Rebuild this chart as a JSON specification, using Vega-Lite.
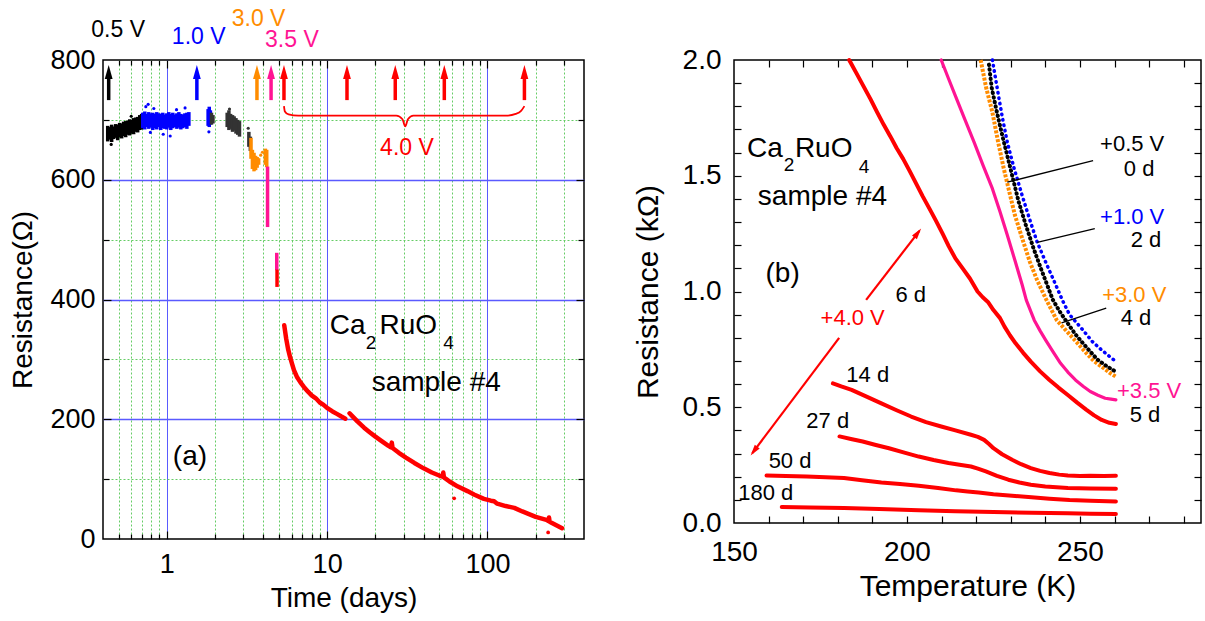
{
"$schema": "https://vega.github.io/schema/vega-lite/v6.json",
"padding": {"left": 9, "top": 6, "right": 0, "bottom": 0},
"background": "white",
"bounds": "flush",
"spacing": 150,
"config": {
  "font": "Liberation Sans",
  "view": {"stroke": "#000000", "strokeWidth": 1.5},
  "axis": {"domain": false, "labelFlush": false, "labelOverlap": false, "tickColor": "#000000", "tickWidth": 1.2, "labelColor": "#000000", "titleColor": "#000000", "titleFontWeight": "normal", "labelFont": "Liberation Sans", "titleFont": "Liberation Sans"},
  "text": {"font": "Liberation Sans"}
},
"hconcat": [
{
  "width": 481, "height": 479,
  "resolve": {"axis": {"x": "independent", "y": "independent"}},
  "layer": [
    {
      "data": {"values": [
        {"x":0.428,"y":664,"y2":690,"c":"k"},{"x":0.44,"y":667,"y2":688,"c":"k"},{"x":0.453,"y":663,"y2":692,"c":"k"},{"x":0.466,"y":668,"y2":689,"c":"k"},
        {"x":0.48,"y":670,"y2":693,"c":"k"},{"x":0.494,"y":666,"y2":692,"c":"k"},{"x":0.508,"y":671,"y2":695,"c":"k"},{"x":0.523,"y":669,"y2":694,"c":"k"},
        {"x":0.538,"y":673,"y2":697,"c":"k"},{"x":0.554,"y":671,"y2":698,"c":"k"},{"x":0.57,"y":675,"y2":699,"c":"k"},{"x":0.587,"y":674,"y2":701,"c":"k"},
        {"x":0.604,"y":677,"y2":700,"c":"k"},{"x":0.621,"y":676,"y2":703,"c":"k"},{"x":0.639,"y":680,"y2":704,"c":"k"},{"x":0.658,"y":679,"y2":705,"c":"k"},
        {"x":0.678,"y":683,"y2":708,"c":"k"},{"x":0.697,"y":684,"y2":710,"c":"k"},
        {"x":0.708,"y":686,"y2":712,"c":"b"},{"x":0.729,"y":684,"y2":714,"c":"b"},{"x":0.75,"y":688,"y2":710,"c":"b"},{"x":0.772,"y":685,"y2":713,"c":"b"},
        {"x":0.794,"y":687,"y2":711,"c":"b"},{"x":0.818,"y":683,"y2":712,"c":"b"},{"x":0.841,"y":686,"y2":710,"c":"b"},{"x":0.866,"y":684,"y2":713,"c":"b"},
        {"x":0.891,"y":688,"y2":711,"c":"b"},{"x":0.917,"y":683,"y2":710,"c":"b"},{"x":0.944,"y":686,"y2":712,"c":"b"},{"x":0.972,"y":685,"y2":709,"c":"b"},
        {"x":1.0,"y":684,"y2":711,"c":"b"},{"x":1.029,"y":687,"y2":713,"c":"b"},{"x":1.059,"y":683,"y2":710,"c":"b"},{"x":1.09,"y":686,"y2":712,"c":"b"},
        {"x":1.122,"y":688,"y2":709,"c":"b"},{"x":1.155,"y":685,"y2":711,"c":"b"},{"x":1.189,"y":687,"y2":713,"c":"b"},{"x":1.223,"y":684,"y2":710,"c":"b"},
        {"x":1.259,"y":686,"y2":709,"c":"b"},{"x":1.296,"y":688,"y2":711,"c":"b"},{"x":1.334,"y":685,"y2":712,"c":"b"},{"x":1.373,"y":690,"y2":713,"c":"b"},
        {"x":1.81,"y":690,"y2":718,"c":"b"},{"x":1.84,"y":688,"y2":722,"c":"b"},{"x":1.87,"y":692,"y2":716,"c":"b"},
        {"x":1.9,"y":692,"y2":712,"c":"g"},{"x":1.94,"y":694,"y2":708,"c":"g"},
        {"x":2.38,"y":688,"y2":712,"c":"g"},{"x":2.44,"y":683,"y2":716,"c":"g"},{"x":2.5,"y":685,"y2":710,"c":"g"},{"x":2.57,"y":680,"y2":708,"c":"g"},
        {"x":2.63,"y":682,"y2":706,"c":"g"},{"x":2.7,"y":677,"y2":703,"c":"g"},{"x":2.77,"y":675,"y2":700,"c":"g"},{"x":2.84,"y":672,"y2":698,"c":"g"},
        {"x":3.25,"y":655,"y2":680,"c":"g"},{"x":3.32,"y":648,"y2":672,"c":"g"},
        {"x":3.35,"y":635,"y2":670,"c":"o"},{"x":3.42,"y":618,"y2":650,"c":"o"},{"x":3.5,"y":614,"y2":645,"c":"o"},{"x":3.58,"y":616,"y2":640,"c":"o"},
        {"x":3.66,"y":620,"y2":638,"c":"o"},{"x":3.74,"y":625,"y2":636,"c":"o"},
        {"x":4.12,"y":625,"y2":652,"c":"o"},{"x":4.2,"y":621,"y2":650,"c":"o"},
        {"x":4.25,"y":521,"y2":622,"c":"m"},
        {"x":4.85,"y":449,"y2":478,"c":"m"},{"x":4.87,"y":421,"y2":450,"c":"r"}
      ]},
      "mark": {"type": "rule", "strokeWidth": 3.5},
      "encoding": {
        "x": {"field": "x", "type": "quantitative", "scale": {"type": "log", "domain": [0.4, 400], "nice": false},
              "axis": {"orient": "bottom", "values": [0.5,0.6,0.7,0.8,0.9,2,3,4,5,6,7,8,9,20,30,40,50,60,70,80,90,200,300], "labels": false, "ticks": false, "grid": true, "gridColor": "#66cc66", "gridDash": [2,2], "gridWidth": 1, "title": null}},
        "y": {"field": "y", "type": "quantitative", "scale": {"domain": [0, 800], "nice": false},
              "axis": {"orient": "left", "values": [100,300,500,700], "labels": false, "ticks": false, "grid": true, "gridColor": "#66cc66", "gridDash": [2,2], "gridWidth": 1, "title": null}},
        "y2": {"field": "y2"},
        "color": {"field": "c", "type": "nominal", "scale": {"domain": ["k","b","g","o","m","r"], "range": ["#000000","#0000ff","#333333","#ff8c00","#ff1493","#ff0000"]}, "legend": null}
      }
    },
    {
      "data": {"values": [
        {"x":0.74,"y":722,"c":"b"},{"x":0.765,"y":726,"c":"b"},{"x":0.83,"y":719,"c":"b"},{"x":0.95,"y":676,"c":"b"},{"x":1.05,"y":673,"c":"b"},
        {"x":1.3,"y":720,"c":"b"},{"x":1.83,"y":680,"c":"b"},{"x":0.79,"y":679,"c":"b"},{"x":1.15,"y":717,"c":"b"},{"x":0.45,"y":659,"c":"k"},
        {"x":0.6,"y":706,"c":"k"},{"x":3.85,"y":641,"c":"o"},{"x":3.95,"y":646,"c":"o"},{"x":2.46,"y":718,"c":"g"},{"x":3.22,"y":686,"c":"g"}
      ]},
      "mark": {"type": "circle", "size": 10, "opacity": 1},
      "encoding": {
        "x": {"field": "x", "type": "quantitative", "scale": {"type": "log", "domain": [0.4, 400], "nice": false},
              "axis": {"orient": "top", "values": [0.5,0.6,0.7,0.8,0.9,2,3,4,5,6,7,8,9,20,30,40,50,60,70,80,90,200,300], "labels": false, "ticks": true, "tickSize": 5, "offset": -5, "grid": false, "title": null}},
        "y": {"field": "y", "type": "quantitative", "scale": {"domain": [0, 800], "nice": false},
              "axis": {"orient": "right", "values": [100,300,500,700], "labels": false, "ticks": true, "tickSize": 6, "offset": -6, "grid": false, "title": null}},
        "color": {"field": "c", "type": "nominal", "scale": {"domain": ["k","b","g","o","m","r"], "range": ["#000000","#0000ff","#333333","#ff8c00","#ff1493","#ff0000"]}, "legend": null}
      }
    },
    {
      "data": {"values": [
        {"x":5.4,"y":357,"g":"a"},{"x":5.55,"y":335,"g":"a"},{"x":5.7,"y":318,"g":"a"},{"x":5.87,"y":304,"g":"a"},{"x":6.05,"y":292,"g":"a"},
        {"x":6.21,"y":282,"g":"a"},{"x":6.5,"y":270,"g":"a"},{"x":6.8,"y":262,"g":"a"},{"x":7.16,"y":254,"g":"a"},{"x":7.6,"y":246,"g":"a"},
        {"x":8.0,"y":240,"g":"a"},{"x":8.5,"y":235,"g":"a"},{"x":9.0,"y":228,"g":"a"},{"x":9.5,"y":224,"g":"a"},{"x":10.1,"y":218,"g":"a"},
        {"x":10.8,"y":213,"g":"a"},{"x":11.5,"y":209,"g":"a"},{"x":12.2,"y":205,"g":"a"},{"x":13.0,"y":201,"g":"a"},
        {"x":13.8,"y":210,"g":"b"},{"x":14.5,"y":204,"g":"b"},{"x":15.5,"y":196,"g":"b"},{"x":17,"y":186,"g":"b"},{"x":18.5,"y":178,"g":"b"},
        {"x":20,"y":171,"g":"b"},{"x":22,"y":163,"g":"b"},{"x":24,"y":156,"g":"b"},{"x":25,"y":153,"g":"b"},{"x":25.3,"y":161,"g":"b"},
        {"x":25.6,"y":152,"g":"b"},{"x":28,"y":144,"g":"b"},{"x":31,"y":136,"g":"b"},{"x":35,"y":127,"g":"b"},{"x":40,"y":118,"g":"b"},
        {"x":45,"y":111,"g":"b"},{"x":50,"y":106,"g":"b"},{"x":52.5,"y":104,"g":"b"},{"x":53,"y":111,"g":"b"},{"x":53.5,"y":103,"g":"b"},
        {"x":58,"y":96,"g":"b"},{"x":65,"y":88,"g":"b"},{"x":75,"y":80,"g":"b"},{"x":83,"y":74,"g":"b"},{"x":95,"y":67,"g":"b"},
        {"x":105,"y":64,"g":"b"},{"x":110,"y":63,"g":"b"},{"x":115,"y":59,"g":"b"},{"x":130,"y":55,"g":"b"},{"x":147,"y":52,"g":"b"},
        {"x":165,"y":46,"g":"b"},{"x":180,"y":42,"g":"b"},{"x":200,"y":37,"g":"b"},{"x":233,"y":32,"g":"b"},{"x":240,"y":30,"g":"b"},
        {"x":242,"y":36,"g":"b"},{"x":244,"y":29,"g":"b"},{"x":265,"y":24,"g":"b"},{"x":292,"y":18,"g":"b"}
      ]},
      "mark": {"type": "line", "color": "#ff0000", "strokeWidth": 4.5, "strokeCap": "round", "strokeJoin": "round"},
      "encoding": {
        "x": {"field": "x", "type": "quantitative", "scale": {"type": "log", "domain": [0.4, 400], "nice": false},
              "axis": {"orient": "bottom", "values": [1,10,100], "format": "d", "labelFontSize": 27, "labelPadding": 12, "ticks": false, "grid": false, "title": "Time (days)", "titleFontSize": 28, "titlePadding": 7}},
        "y": {"field": "y", "type": "quantitative", "scale": {"domain": [0, 800], "nice": false},
              "axis": {"orient": "left", "values": [0,200,400,600,800], "labelFontSize": 27, "labelPadding": 8, "ticks": false, "grid": false, "title": "Resistance(Ω)", "titleFontSize": 28, "titlePadding": 12}},
        "detail": {"field": "g", "type": "nominal"}
      }
    },
    {
      "data": {"values": [{"x":62,"y":68},{"x":239,"y":11}]},
      "mark": {"type": "circle", "size": 14, "color": "#ff0000", "opacity": 1},
      "encoding": {
        "x": {"field": "x", "type": "quantitative", "scale": {"type": "log", "domain": [0.4, 400], "nice": false},
              "axis": {"orient": "bottom", "values": [1,10,100], "labels": false, "ticks": false, "grid": true, "gridColor": "#5a5aff", "gridWidth": 1, "title": null}},
        "y": {"field": "y", "type": "quantitative", "scale": {"domain": [0, 800], "nice": false},
              "axis": {"orient": "left", "values": [200,400,600], "labels": false, "ticks": false, "grid": true, "gridColor": "#5a5aff", "gridWidth": 1.3, "title": null}}
      }
    },
    {
      "data": {"values": [
        {"x":5.38,"y":723},{"x":5.45,"y":714},{"x":5.75,"y":709},{"x":6.6,"y":707},{"x":27,"y":707},{"x":29.5,"y":701},{"x":30.7,"y":689},
        {"x":31.9,"y":701},{"x":34.5,"y":707},{"x":130,"y":707},{"x":150,"y":710},{"x":162,"y":715},{"x":170,"y":723}
      ]},
      "mark": {"type": "line", "color": "#ff0000", "strokeWidth": 1.8, "interpolate": "monotone"},
      "encoding": {
        "x": {"field": "x", "type": "quantitative", "scale": {"type": "log", "domain": [0.4, 400], "nice": false},
              "axis": {"orient": "top", "values": [1,10,100], "labels": false, "ticks": true, "tickSize": 8, "offset": -8, "grid": false, "title": null}},
        "y": {"field": "y", "type": "quantitative", "scale": {"domain": [0, 800], "nice": false},
              "axis": {"orient": "right", "values": [200,400,600], "labels": false, "ticks": true, "tickSize": 8, "offset": -8, "grid": false, "title": null}}
      }
    },
    {
      "data": {"values": [
        {"x":0.434,"y":733,"y2":776,"tip":791.5,"c":"k"},{"x":1.54,"y":733,"y2":776,"tip":791.5,"c":"b"},{"x":3.65,"y":733,"y2":776,"tip":791.5,"c":"o"},
        {"x":4.47,"y":733,"y2":776,"tip":791.5,"c":"m"},{"x":5.38,"y":733,"y2":776,"tip":791.5,"c":"r"},{"x":13.3,"y":733,"y2":776,"tip":791.5,"c":"r"},
        {"x":26.6,"y":733,"y2":776,"tip":791.5,"c":"r"},{"x":53.8,"y":733,"y2":776,"tip":791.5,"c":"r"},{"x":170,"y":733,"y2":776,"tip":791.5,"c":"r"}
      ]},
      "layer": [
        {
          "mark": {"type": "rule", "strokeWidth": 3.5},
          "encoding": {
            "x": {"field": "x", "type": "quantitative", "scale": {"type": "log", "domain": [0.4, 400], "nice": false}, "axis": null},
            "y": {"field": "y", "type": "quantitative", "scale": {"domain": [0, 800], "nice": false}, "axis": null},
            "y2": {"field": "y2"},
            "color": {"field": "c", "type": "nominal", "scale": {"domain": ["k","b","g","o","m","r"], "range": ["#000000","#0000ff","#333333","#ff8c00","#ff1493","#ff0000"]}, "legend": null}
          }
        },
        {
          "mark": {"type": "point", "shape": "M0,0L0.5,1.8L-0.5,1.8Z", "size": 243, "filled": true, "opacity": 1, "strokeWidth": 0},
          "encoding": {
            "x": {"field": "x", "type": "quantitative", "scale": {"type": "log", "domain": [0.4, 400], "nice": false}, "axis": null},
            "y": {"field": "tip", "type": "quantitative", "scale": {"domain": [0, 800], "nice": false}, "axis": null},
            "color": {"field": "c", "type": "nominal", "scale": {"domain": ["k","b","g","o","m","r"], "range": ["#000000","#0000ff","#333333","#ff8c00","#ff1493","#ff0000"]}, "legend": null}
          }
        }
      ]
    },
    {
      "data": {"values": [
        {"x":0.338,"y":850,"t":"0.5 V","c":"k"},{"x":1.075,"y":837.6,"t":"1.0 V","c":"b"},{"x":2.54,"y":869.3,"t":"3.0 V","c":"o"},
        {"x":4.1,"y":833.4,"t":"3.5 V","c":"m"},{"x":21.4,"y":652.2,"t":"4.0 V","c":"r"}
      ]},
      "mark": {"type": "text", "fontSize": 23, "align": "left", "baseline": "middle"},
      "encoding": {
        "x": {"field": "x", "type": "quantitative", "scale": {"type": "log", "domain": [0.4, 400], "nice": false},
              "axis": {"orient": "bottom", "values": [1,10,100], "labels": false, "ticks": true, "tickSize": 8, "offset": -8, "grid": false, "title": null}},
        "y": {"field": "y", "type": "quantitative", "scale": {"domain": [0, 800], "nice": false},
              "axis": {"orient": "left", "values": [200,400,600], "labels": false, "ticks": true, "tickSize": 8, "offset": -8, "grid": false, "title": null}},
        "text": {"field": "t"},
        "color": {"field": "c", "type": "nominal", "scale": {"domain": ["k","b","g","o","m","r"], "range": ["#000000","#0000ff","#333333","#ff8c00","#ff1493","#ff0000"]}, "legend": null}
      }
    },
    {
      "data": {"values": [
        {"x":10.4,"y":355.7,"t":"Ca"},{"x":21.2,"y":355.7,"t":"RuO"},{"x":18.95,"y":260.5,"t":"sample #4"},{"x":1.09,"y":137.4,"t":"(a)"}
      ]},
      "mark": {"type": "text", "fontSize": 28, "align": "left", "baseline": "middle", "color": "#000000"},
      "encoding": {
        "x": {"field": "x", "type": "quantitative", "scale": {"type": "log", "domain": [0.4, 400], "nice": false},
              "axis": {"orient": "bottom", "values": [0.5,0.6,0.7,0.8,0.9,2,3,4,5,6,7,8,9,20,30,40,50,60,70,80,90,200,300], "labels": false, "ticks": true, "tickSize": 5, "offset": -5, "grid": false, "title": null}},
        "y": {"field": "y", "type": "quantitative", "scale": {"domain": [0, 800], "nice": false},
              "axis": {"orient": "left", "values": [100,300,500,700], "labels": false, "ticks": true, "tickSize": 6, "offset": -6, "grid": false, "title": null}},
        "text": {"field": "t"}
      }
    },
    {
      "data": {"values": [{"x":17.4,"y":327.3,"t":"2"},{"x":52.9,"y":327.3,"t":"4"}]},
      "mark": {"type": "text", "fontSize": 19, "align": "left", "baseline": "middle", "color": "#000000"},
      "encoding": {
        "x": {"field": "x", "type": "quantitative", "scale": {"type": "log", "domain": [0.4, 400], "nice": false}, "axis": null},
        "y": {"field": "y", "type": "quantitative", "scale": {"domain": [0, 800], "nice": false}, "axis": null},
        "text": {"field": "t"}
      }
    }
  ]
},
{
  "width": 467, "height": 463,
  "resolve": {"axis": {"x": "independent", "y": "independent"}},
  "layer": [
    {
      "data": {"values": [
        {"x":221.3,"y":2.0},{"x":222.9,"y":1.88},{"x":224.7,"y":1.774},{"x":226.3,"y":1.65},{"x":228,"y":1.53},{"x":229.6,"y":1.43},
        {"x":231.2,"y":1.33},{"x":233.3,"y":1.23},{"x":235.5,"y":1.129},{"x":237.6,"y":1.05},{"x":240.1,"y":0.97},{"x":243.3,"y":0.876},
        {"x":245.5,"y":0.84},{"x":247.6,"y":0.805},{"x":249.7,"y":0.77},{"x":251.9,"y":0.733},{"x":254,"y":0.7},{"x":256.3,"y":0.675},
        {"x":258.5,"y":0.65},{"x":260.4,"y":0.632}
      ]},
      "mark": {"type": "line", "color": "#ff8c00", "strokeWidth": 4, "strokeDash": [3, 1.5]},
      "encoding": {
        "x": {"field": "x", "type": "quantitative", "scale": {"domain": [150, 285], "nice": false}, "axis": null},
        "y": {"field": "y", "type": "quantitative", "scale": {"domain": [0, 2], "nice": false}, "axis": null}
      }
    },
    {
      "data": {"values": [
        {"x":223.7,"y":1.98},{"x":224.5,"y":1.88},{"x":225.8,"y":1.788},{"x":227.3,"y":1.69},{"x":229,"y":1.587},{"x":230.6,"y":1.49},
        {"x":232.3,"y":1.387},{"x":234.4,"y":1.285},{"x":236.6,"y":1.186},{"x":238.7,"y":1.1},{"x":240.9,"y":1.014},{"x":242.2,"y":0.963},
        {"x":244.3,"y":0.91},{"x":246.5,"y":0.862},{"x":248.7,"y":0.815},{"x":250.9,"y":0.776},{"x":253,"y":0.74},{"x":255.2,"y":0.704},
        {"x":257.5,"y":0.68},{"x":259.5,"y":0.661},{"x":260.3,"y":0.655}
      ]},
      "mark": {"type": "line", "color": "#000000", "strokeWidth": 4, "strokeDash": [0.5, 4.2], "strokeCap": "round"},
      "encoding": {
        "x": {"field": "x", "type": "quantitative", "scale": {"domain": [150, 285], "nice": false},
              "axis": {"orient": "bottom", "values": [160,170,180,190,200,210,220,230,240,250,260,270,280], "labels": false, "ticks": true, "tickSize": 7, "offset": -7, "grid": false, "title": null}},
        "y": {"field": "y", "type": "quantitative", "scale": {"domain": [0, 2], "nice": false},
              "axis": {"orient": "left", "values": [0.1,0.2,0.3,0.4,0.5,0.6,0.7,0.8,0.9,1.0,1.1,1.2,1.3,1.4,1.5,1.6,1.7,1.8,1.9], "labels": false, "ticks": true, "tickSize": 7, "offset": -7, "grid": false, "title": null}}
      }
    },
    {
      "data": {"values": [
        {"x":224.7,"y":2.0},{"x":226.3,"y":1.86},{"x":227.6,"y":1.75},{"x":229,"y":1.645},{"x":231,"y":1.53},{"x":233.3,"y":1.415},
        {"x":235.5,"y":1.31},{"x":237.6,"y":1.215},{"x":240.3,"y":1.12},{"x":243,"y":1.029},{"x":245,"y":0.96},{"x":247,"y":0.9},
        {"x":250.9,"y":0.833},{"x":253.5,"y":0.785},{"x":256.3,"y":0.747},{"x":258.5,"y":0.72},{"x":260.4,"y":0.697}
      ]},
      "mark": {"type": "line", "color": "#0000ff", "strokeWidth": 3.5, "strokeDash": [0.5, 5], "strokeCap": "round"},
      "encoding": {
        "x": {"field": "x", "type": "quantitative", "scale": {"domain": [150, 285], "nice": false},
              "axis": {"orient": "top", "values": [160,170,180,190,200,210,220,230,240,250,260,270,280], "labels": false, "ticks": true, "tickSize": 7, "offset": -7, "grid": false, "title": null}},
        "y": {"field": "y", "type": "quantitative", "scale": {"domain": [0, 2], "nice": false},
              "axis": {"orient": "right", "values": [0.1,0.2,0.3,0.4,0.5,0.6,0.7,0.8,0.9,1.0,1.1,1.2,1.3,1.4,1.5,1.6,1.7,1.8,1.9], "labels": false, "ticks": true, "tickSize": 7, "offset": -7, "grid": false, "title": null}}
      }
    },
    {
      "data": {"values": [
        {"x":209.9,"y":2.0},{"x":212,"y":1.92},{"x":214,"y":1.845},{"x":216.7,"y":1.745},
        {"x":219.4,"y":1.645},{"x":222,"y":1.545},{"x":224.7,"y":1.444},{"x":226.9,"y":1.344},
        {"x":229,"y":1.244},{"x":231.2,"y":1.135},{"x":233.3,"y":1.029},{"x":234.5,"y":0.963},
        {"x":236.8,"y":0.876},{"x":238.5,"y":0.83},{"x":240.1,"y":0.79},{"x":242.2,"y":0.74},
        {"x":244.4,"y":0.69},{"x":246.5,"y":0.652},{"x":248.7,"y":0.618},{"x":251,"y":0.59},
        {"x":253,"y":0.568},{"x":255.2,"y":0.552},{"x":257.3,"y":0.539},{"x":259,"y":0.535},{"x":260.4,"y":0.532}
      ]},
      "mark": {"type": "line", "color": "#ff1493", "strokeWidth": 3.2, "strokeCap": "round", "strokeJoin": "round"},
      "encoding": {
        "x": {"field": "x", "type": "quantitative", "scale": {"domain": [150, 285], "nice": false}, "axis": null},
        "y": {"field": "y", "type": "quantitative", "scale": {"domain": [0, 2], "nice": false}, "axis": null}
      }
    },
    {
      "data": {"values": [
        {"x":183.3,"y":2.0,"s":"r6"},{"x":185.5,"y":1.94,"s":"r6"},{"x":187.5,"y":1.885,"s":"r6"},{"x":189.5,"y":1.83,"s":"r6"},
        {"x":191.4,"y":1.774,"s":"r6"},{"x":193.3,"y":1.72,"s":"r6"},{"x":195.2,"y":1.67,"s":"r6"},{"x":197,"y":1.62,"s":"r6"},
        {"x":198.9,"y":1.573,"s":"r6"},{"x":200.8,"y":1.52,"s":"r6"},{"x":202.7,"y":1.465,"s":"r6"},{"x":204.6,"y":1.41,"s":"r6"},
        {"x":206.5,"y":1.358,"s":"r6"},{"x":208.4,"y":1.305,"s":"r6"},{"x":210.3,"y":1.25,"s":"r6"},{"x":212.1,"y":1.195,"s":"r6"},
        {"x":214,"y":1.143,"s":"r6"},{"x":216.1,"y":1.1,"s":"r6"},{"x":218.2,"y":1.056,"s":"r6"},{"x":220.4,"y":1.0,"s":"r6"},
        {"x":221.9,"y":0.975,"s":"r6"},{"x":223.4,"y":0.955,"s":"r6"},{"x":225,"y":0.92,"s":"r6"},{"x":226.9,"y":0.885,"s":"r6"},
        {"x":228.2,"y":0.848,"s":"r6"},{"x":229.8,"y":0.81,"s":"r6"},{"x":231.4,"y":0.776,"s":"r6"},{"x":233.6,"y":0.735,"s":"r6"},
        {"x":235.8,"y":0.697,"s":"r6"},{"x":238.5,"y":0.655,"s":"r6"},{"x":241.2,"y":0.618,"s":"r6"},{"x":243.8,"y":0.585,"s":"r6"},
        {"x":246.5,"y":0.553,"s":"r6"},{"x":249.2,"y":0.52,"s":"r6"},{"x":251.9,"y":0.489,"s":"r6"},{"x":254.1,"y":0.465,"s":"r6"},
        {"x":256.3,"y":0.445,"s":"r6"},{"x":258.5,"y":0.433,"s":"r6"},{"x":260.4,"y":0.428,"s":"r6"},
        {"x":178.6,"y":0.603,"s":"r14"},{"x":181,"y":0.59,"s":"r14"},{"x":184,"y":0.575,"s":"r14"},{"x":188,"y":0.548,"s":"r14"},
        {"x":192.6,"y":0.517,"s":"r14"},{"x":197,"y":0.487,"s":"r14"},{"x":201.2,"y":0.46,"s":"r14"},{"x":205.5,"y":0.436,"s":"r14"},
        {"x":209.9,"y":0.417,"s":"r14"},{"x":214,"y":0.4,"s":"r14"},{"x":218.5,"y":0.381,"s":"r14"},{"x":220.5,"y":0.372,"s":"r14"},
        {"x":222.3,"y":0.359,"s":"r14"},{"x":223.8,"y":0.34,"s":"r14"},{"x":225,"y":0.323,"s":"r14"},{"x":227.5,"y":0.297,"s":"r14"},
        {"x":230.4,"y":0.273,"s":"r14"},{"x":233,"y":0.254,"s":"r14"},{"x":235.8,"y":0.237,"s":"r14"},{"x":238.5,"y":0.225,"s":"r14"},
        {"x":241.2,"y":0.216,"s":"r14"},{"x":244,"y":0.209,"s":"r14"},{"x":246.5,"y":0.205,"s":"r14"},{"x":250,"y":0.203,"s":"r14"},
        {"x":253,"y":0.204,"s":"r14"},{"x":257,"y":0.203,"s":"r14"},{"x":260.4,"y":0.204,"s":"r14"},
        {"x":180.5,"y":0.374,"s":"r27"},{"x":183.8,"y":0.363,"s":"r27"},{"x":187.2,"y":0.352,"s":"r27"},{"x":191,"y":0.337,"s":"r27"},
        {"x":194.8,"y":0.323,"s":"r27"},{"x":199,"y":0.305,"s":"r27"},{"x":203.4,"y":0.287,"s":"r27"},{"x":207.7,"y":0.272,"s":"r27"},
        {"x":212,"y":0.259,"s":"r27"},{"x":215.2,"y":0.252,"s":"r27"},{"x":218.5,"y":0.244,"s":"r27"},{"x":220.5,"y":0.235,"s":"r27"},
        {"x":222.8,"y":0.223,"s":"r27"},{"x":226,"y":0.204,"s":"r27"},{"x":229.3,"y":0.187,"s":"r27"},{"x":232.5,"y":0.175,"s":"r27"},
        {"x":235.8,"y":0.165,"s":"r27"},{"x":240,"y":0.158,"s":"r27"},{"x":246.5,"y":0.151,"s":"r27"},{"x":253,"y":0.149,"s":"r27"},
        {"x":260.4,"y":0.148,"s":"r27"},
        {"x":159.4,"y":0.205,"s":"r50"},{"x":165,"y":0.203,"s":"r50"},{"x":171,"y":0.201,"s":"r50"},{"x":176.5,"y":0.198,"s":"r50"},
        {"x":181.8,"y":0.194,"s":"r50"},{"x":187,"y":0.185,"s":"r50"},{"x":192.6,"y":0.175,"s":"r50"},{"x":198,"y":0.168,"s":"r50"},
        {"x":203.4,"y":0.161,"s":"r50"},{"x":209,"y":0.151,"s":"r50"},{"x":214.2,"y":0.141,"s":"r50"},{"x":217.5,"y":0.136,"s":"r50"},
        {"x":220.7,"y":0.132,"s":"r50"},{"x":225,"y":0.124,"s":"r50"},{"x":230.4,"y":0.118,"s":"r50"},{"x":236,"y":0.111,"s":"r50"},
        {"x":241.2,"y":0.105,"s":"r50"},{"x":247,"y":0.099,"s":"r50"},{"x":253,"y":0.096,"s":"r50"},{"x":260.4,"y":0.093,"s":"r50"},
        {"x":163.8,"y":0.069,"s":"r180"},{"x":172,"y":0.067,"s":"r180"},{"x":181.8,"y":0.065,"s":"r180"},{"x":192,"y":0.06,"s":"r180"},
        {"x":203.4,"y":0.055,"s":"r180"},{"x":214,"y":0.051,"s":"r180"},{"x":225,"y":0.047,"s":"r180"},{"x":236,"y":0.044,"s":"r180"},
        {"x":246.5,"y":0.042,"s":"r180"},{"x":253,"y":0.04,"s":"r180"},{"x":260.4,"y":0.039,"s":"r180"}
      ]},
      "mark": {"type": "line", "color": "#ff0000", "strokeWidth": 4, "strokeCap": "round", "strokeJoin": "round"},
      "encoding": {
        "x": {"field": "x", "type": "quantitative", "scale": {"domain": [150, 285], "nice": false},
              "axis": {"orient": "bottom", "values": [150,200,250], "labelFontSize": 28, "labelPadding": 15, "ticks": false, "grid": false, "title": "Temperature (K)", "titleFontSize": 30, "titlePadding": 5}},
        "y": {"field": "y", "type": "quantitative", "scale": {"domain": [0, 2], "nice": false},
              "axis": {"orient": "left", "values": [0,0.5,1,1.5,2], "format": ".1f", "labelFontSize": 28, "labelPadding": 13, "ticks": false, "grid": false, "title": "Resistance (kΩ)", "titleFontSize": 30, "titlePadding": 19}},
        "detail": {"field": "s", "type": "nominal"}
      }
    },
    {
      "data": {"values": [
        {"x":253.8,"y":1.565,"x2":229,"y2":1.472},{"x":254.3,"y":1.272,"x2":237.65,"y2":1.212},{"x":257.6,"y":0.928,"x2":244.7,"y2":0.864}
      ]},
      "mark": {"type": "rule", "color": "#000000", "strokeWidth": 1.3},
      "encoding": {
        "x": {"field": "x", "type": "quantitative", "scale": {"domain": [150, 285], "nice": false}, "axis": null},
        "y": {"field": "y", "type": "quantitative", "scale": {"domain": [0, 2], "nice": false}, "axis": null},
        "x2": {"field": "x2"}, "y2": {"field": "y2"}
      }
    },
    {
      "data": {"values": [
        {"x":188.2,"y":0.964,"x2":203.6,"y2":1.262},{"x":180.4,"y":0.8,"x2":155.3,"y2":0.302}
      ]},
      "mark": {"type": "rule", "color": "#ff0000", "strokeWidth": 2.2},
      "encoding": {
        "x": {"field": "x", "type": "quantitative", "scale": {"domain": [150, 285], "nice": false}, "axis": null},
        "y": {"field": "y", "type": "quantitative", "scale": {"domain": [0, 2], "nice": false}, "axis": null},
        "x2": {"field": "x2"}, "y2": {"field": "y2"}
      }
    },
    {
      "data": {"values": [{"x":204.1,"y":1.272}]},
      "mark": {"type": "point", "shape": "M0,0L0.5,1.8L-0.5,1.8Z", "size": 150, "filled": true, "opacity": 1, "strokeWidth": 0, "color": "#ff0000", "angle": 37.5},
      "encoding": {
        "x": {"field": "x", "type": "quantitative", "scale": {"domain": [150, 285], "nice": false}, "axis": null},
        "y": {"field": "y", "type": "quantitative", "scale": {"domain": [0, 2], "nice": false}, "axis": null}
      }
    },
    {
      "data": {"values": [{"x":154.8,"y":0.292}]},
      "mark": {"type": "point", "shape": "M0,0L0.5,1.8L-0.5,1.8Z", "size": 150, "filled": true, "opacity": 1, "strokeWidth": 0, "color": "#ff0000", "angle": 217},
      "encoding": {
        "x": {"field": "x", "type": "quantitative", "scale": {"domain": [150, 285], "nice": false}, "axis": null},
        "y": {"field": "y", "type": "quantitative", "scale": {"domain": [0, 2], "nice": false}, "axis": null}
      }
    },
    {
      "data": {"values": [
        {"x":265.1,"y":1.635,"t":"+0.5 V","c":"k"},{"x":267.1,"y":1.528,"t":"0 d","c":"k"},{"x":265.1,"y":1.322,"t":"+1.0 V","c":"b"},
        {"x":269.1,"y":1.223,"t":"2 d","c":"k"},{"x":265.7,"y":0.983,"t":"+3.0 V","c":"o"},{"x":266.2,"y":0.884,"t":"4 d","c":"k"},
        {"x":270,"y":0.571,"t":"+3.5 V","c":"m"},{"x":268.8,"y":0.468,"t":"5 d","c":"k"},{"x":201.1,"y":0.983,"t":"6 d","c":"k"},
        {"x":184.3,"y":0.884,"t":"+4.0 V","c":"r"},{"x":188.65,"y":0.639,"t":"14 d","c":"k"},{"x":177.1,"y":0.442,"t":"27 d","c":"k"},
        {"x":166.2,"y":0.266,"t":"50 d","c":"k"},{"x":159.2,"y":0.129,"t":"180 d","c":"k"}
      ]},
      "mark": {"type": "text", "fontSize": 22, "align": "center", "baseline": "middle"},
      "encoding": {
        "x": {"field": "x", "type": "quantitative", "scale": {"domain": [150, 285], "nice": false}, "axis": null},
        "y": {"field": "y", "type": "quantitative", "scale": {"domain": [0, 2], "nice": false}, "axis": null},
        "text": {"field": "t"},
        "color": {"field": "c", "type": "nominal", "scale": {"domain": ["k","b","g","o","m","r"], "range": ["#000000","#0000ff","#333333","#ff8c00","#ff1493","#ff0000"]}, "legend": null}
      }
    },
    {
      "data": {"values": [
        {"x":153.75,"y":1.614,"t":"Ca"},{"x":167.6,"y":1.614,"t":"RuO"},{"x":156.9,"y":1.408,"t":"sample #4"},{"x":159.1,"y":1.077,"t":"(b)"}
      ]},
      "mark": {"type": "text", "fontSize": 28, "align": "left", "baseline": "middle", "color": "#000000"},
      "encoding": {
        "x": {"field": "x", "type": "quantitative", "scale": {"domain": [150, 285], "nice": false}, "axis": null},
        "y": {"field": "y", "type": "quantitative", "scale": {"domain": [0, 2], "nice": false}, "axis": null},
        "text": {"field": "t"}
      }
    },
    {
      "data": {"values": [{"x":164.4,"y":1.545,"t":"2"},{"x":186.05,"y":1.536,"t":"4"}]},
      "mark": {"type": "text", "fontSize": 19, "align": "left", "baseline": "middle", "color": "#000000"},
      "encoding": {
        "x": {"field": "x", "type": "quantitative", "scale": {"domain": [150, 285], "nice": false}, "axis": null},
        "y": {"field": "y", "type": "quantitative", "scale": {"domain": [0, 2], "nice": false}, "axis": null},
        "text": {"field": "t"}
      }
    }
  ]
}
]
}
